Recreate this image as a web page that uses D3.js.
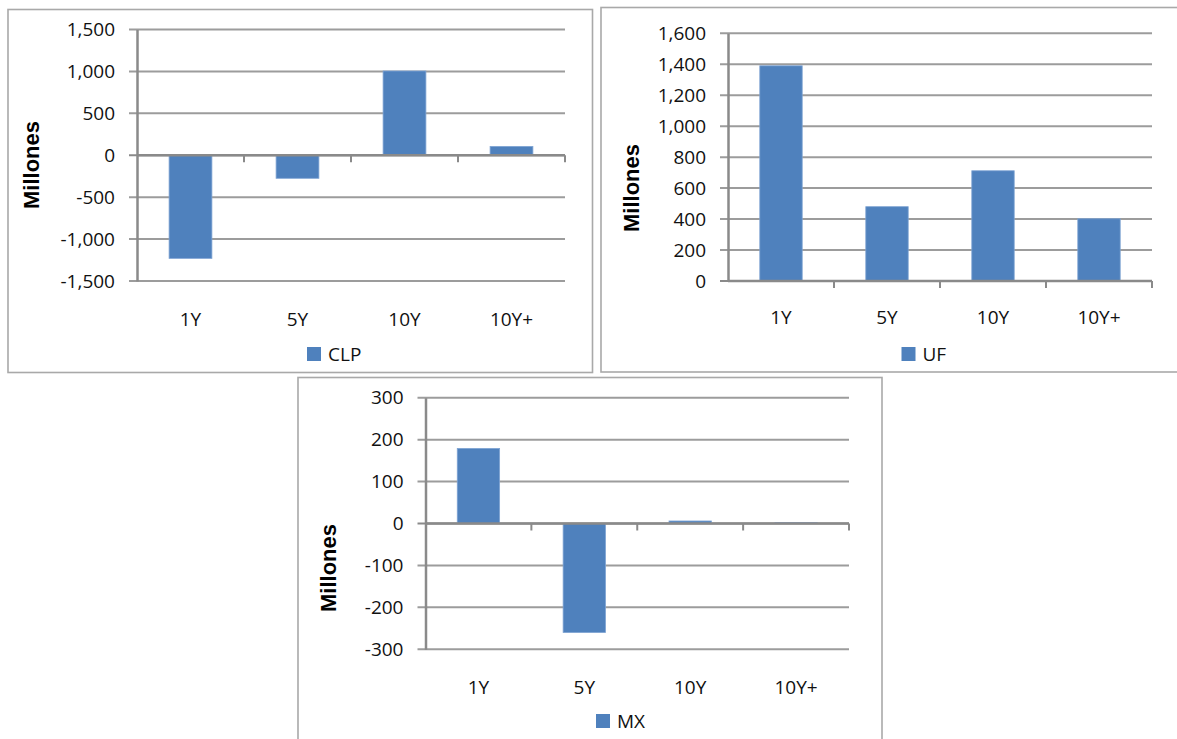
<!DOCTYPE html>
<html>
<head>
<meta charset="utf-8">
<script src="https://cdn.jsdelivr.net/npm/d3@7"></script>
<style>
  html, body { margin: 0; padding: 0; background: #ffffff; }
  svg { display: block; }
</style>
</head>
<body>
<svg id="chart" width="1177" height="739"></svg>
<script>
// Maturity buckets shared by the three currency panels
const categories = ["1Y", "5Y", "10Y", "10Y+"];

// Net position per bucket, in millions
const clpValues = [-1230, -275, 1005, 105];
const ufValues = [1390, 480, 712, 402];
const mxValues = [179, -260, 6, 2];

// Y-axis ticks for each panel
const clpTicks = [-1500, -1000, -500, 0, 500, 1000, 1500];
const ufTicks = [0, 200, 400, 600, 800, 1000, 1200, 1400, 1600];
const mxTicks = [-300, -200, -100, 0, 100, 200, 300];

const seriesNames = ["CLP", "UF", "MX"];
const axisTitle = "Millones";

const BAR = "#4f81bd";
const GRID = "#9c9c9c";
const AXIS = "#8a8a8a";
const FRAME = "#a9a9a9";
const TICK_FONT = "'Open Sans', sans-serif";
const TICK_SIZE = 19;

const svg = d3.select("#chart");
// thousands separator with a plain hyphen for negatives
const fmt = d => d3.format(",")(d).replace("\u2212", "-");

function drawPanel(p) {
  const g = svg.append("g");

  // outer frame of the chart object
  g.append("rect")
    .attr("x", p.frame[0]).attr("y", p.frame[1])
    .attr("width", p.frame[2] - p.frame[0]).attr("height", p.frame[3] - p.frame[1])
    .attr("fill", "#fff").attr("stroke", FRAME).attr("stroke-width", 1.6);

  const x = d3.scaleBand().domain(categories).range([p.left, p.right]).padding(0);
  const y = d3.scaleLinear().domain(d3.extent(p.ticks)).range([p.bottom, p.top]);

  // horizontal gridlines (extend left as the tick marks)
  g.append("g").selectAll("line").data(p.ticks).join("line")
    .attr("x1", p.left - 8).attr("x2", p.right)
    .attr("y1", d => y(d)).attr("y2", d => y(d))
    .attr("stroke", d => d === 0 ? AXIS : GRID)
    .attr("stroke-width", 2);

  // value axis
  const yAxis = d3.axisLeft(y).tickValues(p.ticks).tickFormat(fmt).tickSize(0).tickPadding(22);
  const ya = g.append("g").attr("transform", `translate(${p.left},0)`).call(yAxis);
  ya.select(".domain").attr("stroke", AXIS).attr("stroke-width", 2.5);
  ya.selectAll("text")
    .attr("font-family", TICK_FONT).attr("font-size", TICK_SIZE).attr("fill", "#111");

  // bars
  const bw = x.bandwidth() / 2.5;
  g.append("g").selectAll("rect").data(p.values).join("rect")
    .attr("x", (d, i) => x(categories[i]) + (x.bandwidth() - bw) / 2)
    .attr("width", bw)
    .attr("y", d => y(Math.max(0, d)))
    .attr("height", d => Math.abs(y(d) - y(0)))
    .attr("fill", BAR)
    .attr("stroke", "#7ea3d3").attr("stroke-width", 0.8);

  // category axis along zero
  const boundaries = categories.map(c => x(c)).concat([p.right]);
  g.append("line")
    .attr("x1", p.left).attr("x2", p.right)
    .attr("y1", y(0)).attr("y2", y(0))
    .attr("stroke", AXIS).attr("stroke-width", 2.5);
  g.append("g").selectAll("line").data(boundaries.slice(1)).join("line")
    .attr("x1", d => d).attr("x2", d => d)
    .attr("y1", y(0)).attr("y2", y(0) + 7)
    .attr("stroke", AXIS).attr("stroke-width", 2);

  // category labels under the plot
  g.append("g").selectAll("text").data(categories).join("text")
    .attr("x", d => x(d) + x.bandwidth() / 2)
    .attr("y", p.labelY)
    .attr("text-anchor", "middle").attr("dominant-baseline", "central")
    .attr("font-family", TICK_FONT).attr("font-size", TICK_SIZE).attr("fill", "#111")
    .text(d => d);

  // axis title
  g.append("text")
    .attr("transform", `translate(${p.titleX},${p.titleY}) rotate(-90)`)
    .attr("text-anchor", "middle").attr("dominant-baseline", "central")
    .attr("font-family", "'Liberation Sans', Arial, sans-serif")
    .attr("font-weight", "bold").attr("font-size", 22).attr("fill", "#000")
    .text(axisTitle);

  // legend
  g.append("rect")
    .attr("x", p.legend[0]).attr("y", p.legend[1])
    .attr("width", 14).attr("height", 14).attr("fill", BAR);
  g.append("text")
    .attr("x", p.legend[0] + 21).attr("y", p.legend[1] + 7)
    .attr("dominant-baseline", "central")
    .attr("font-family", TICK_FONT).attr("font-size", TICK_SIZE).attr("fill", "#111")
    .text(p.name);
}

drawPanel({
  name: seriesNames[0], values: clpValues, ticks: clpTicks,
  frame: [8, 9.5, 592.5, 372.5],
  left: 137, right: 565, top: 29.5, bottom: 281,
  labelY: 319, titleX: 31, titleY: 165, legend: [307, 347]
});

drawPanel({
  name: seriesNames[1], values: ufValues, ticks: ufTicks,
  frame: [601, 7.5, 1185, 372],
  left: 728, right: 1152, top: 33.3, bottom: 281,
  labelY: 317, titleX: 631, titleY: 188, legend: [901.5, 347]
});

drawPanel({
  name: seriesNames[2], values: mxValues, ticks: mxTicks,
  frame: [298, 377.5, 882, 750],
  left: 425.5, right: 849, top: 397.7, bottom: 649.3,
  labelY: 687, titleX: 328, titleY: 568, legend: [596, 714]
});
</script>
</body>
</html>
